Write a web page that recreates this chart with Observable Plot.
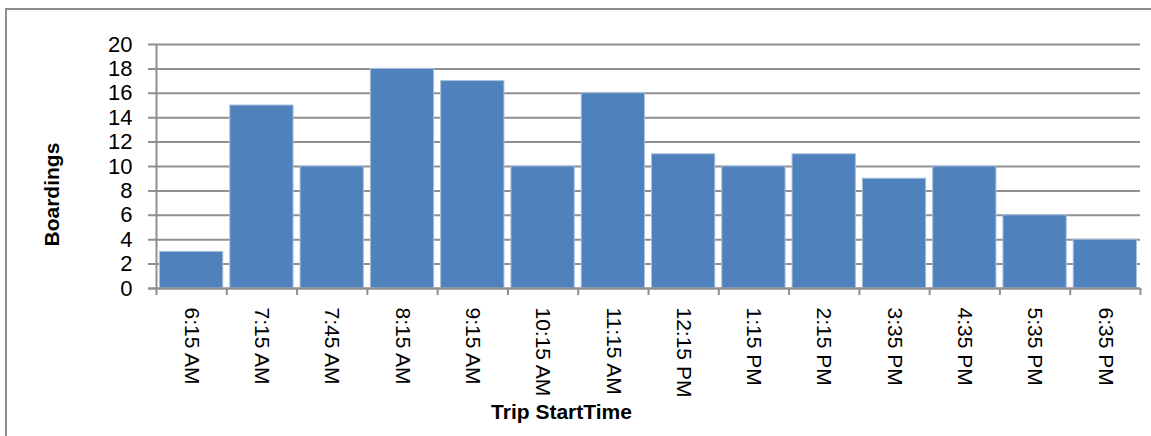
<!DOCTYPE html>
<html>
<head>
<meta charset="utf-8">
<script src="https://cdn.jsdelivr.net/npm/d3@7"></script>
<script src="https://cdn.jsdelivr.net/npm/@observablehq/plot@0.6"></script>
<style>
  html, body { margin: 0; padding: 0; background: #fff; overflow: hidden; }
  #chart { position: relative; width: 1151px; height: 436px; }
  #chart svg { position: absolute; left: 0; top: 0; }
  #border {
    position: absolute; left: 5px; top: 8px; width: 1200px; height: 500px;
    border: 2px solid #8c8c8c; box-sizing: border-box; pointer-events: none;
  }
</style>
</head>
<body>
<div id="chart"><div id="border"></div></div>
<script>
// Boardings per trip, by scheduled start time
const tripTimes = ["6:15 AM", "7:15 AM", "7:45 AM", "8:15 AM", "9:15 AM", "10:15 AM", "11:15 AM",
                   "12:15 PM", "1:15 PM", "2:15 PM", "3:35 PM", "4:35 PM", "5:35 PM", "6:35 PM"];
const boardings = [3, 15, 10, 18, 17, 10, 16, 11, 10, 11, 9, 10, 6, 4];
const yTicks = [0, 2, 4, 6, 8, 10, 12, 14, 16, 18, 20];

const trips = tripTimes.map((t, i) => ({i, t, v: boardings[i]}));
const slotEdges = d3.range(0, tripTimes.length + 1);
const slotCenters = d3.range(0, tripTimes.length).map(i => i + 0.5);

const sans = '"Liberation Sans", Arial, sans-serif';
const gridColor = "#8f8f8f";

const chart = Plot.plot({
  width: 1151,
  height: 436,
  marginLeft: 156,
  marginRight: 11,
  marginTop: 44,
  marginBottom: 148,
  style: {fontFamily: sans, fontSize: "21px", color: "#000", background: "transparent", overflow: "visible"},
  x: {type: "linear", domain: [0, tripTimes.length], label: null},
  y: {domain: [0, 20], label: null},
  marks: [
    // horizontal gridlines, with their tick stubs left of the axis
    Plot.ruleY(yTicks, {stroke: gridColor, strokeWidth: 2, insetLeft: -8}),
    // one bar per trip slot
    Plot.rect(trips, {
      x1: "i", x2: d => d.i + 1, y1: 0, y2: "v",
      fill: "#4F81BD", stroke: "#a8bfdd", strokeWidth: 1,
      insetLeft: 3.5, insetRight: 3.5
    }),
    // baseline and vertical axis line
    Plot.ruleY([0], {stroke: gridColor, strokeWidth: 2, insetLeft: -8}),
    Plot.ruleX([0], {y1: 0, y2: 20, stroke: gridColor, strokeWidth: 2}),
    // tick marks between slots
    Plot.axisX(slotEdges, {tickSize: 7, tickFormat: () => "", stroke: gridColor, strokeWidth: 2, label: null}),
    // slot labels, rotated
    Plot.axisX(slotCenters, {
      tickSize: 0, tickPadding: 19, tickRotate: 90,
      tickFormat: d => tripTimes[Math.floor(d)],
      fontSize: 21, fill: "#000", label: null
    }),
    Plot.axisY(yTicks, {tickSize: 0, tickPadding: 24, fontSize: 22, fill: "#000", label: null}),
    // axis titles
    Plot.text(["Boardings"], {frameAnchor: "left", rotate: -90, dx: -104, dy: 80, fontWeight: "bold", fontSize: 21, fill: "#000"}),
    Plot.text(["Trip StartTime"], {frameAnchor: "bottom", dx: -87, dy: 130, fontWeight: "bold", fontSize: 21, fill: "#000"})
  ]
});

document.getElementById("chart").prepend(chart);
</script>
</body>
</html>
